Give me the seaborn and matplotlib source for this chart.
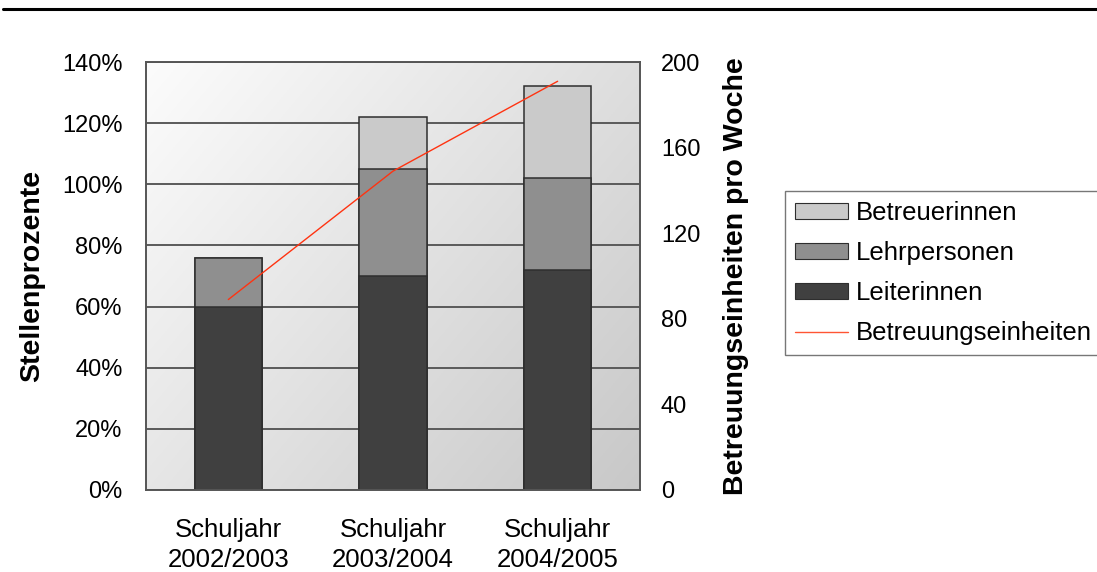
import numpy as np
import pandas as pd
import matplotlib
matplotlib.use("Agg")
import matplotlib.pyplot as plt
from matplotlib.patches import Patch
from matplotlib.lines import Line2D
import seaborn as sns

# Data
schuljahre = ["Schuljahr\n2002/2003", "Schuljahr\n2003/2004", "Schuljahr\n2004/2005"]
leiterinnen = [60, 70, 72]
lehrpersonen = [16, 35, 30]
betreuerinnen = [0, 17, 30]
betreuungseinheiten = [89, 149, 191]

sns.set_theme(style="white")
plt.rcParams["font.family"] = ["Liberation Sans", "DejaVu Sans"]
plt.rcParams["text.color"] = "black"
plt.rcParams["axes.labelcolor"] = "black"

FS = 17
FS_CAT = 18.5

fig = plt.figure(figsize=(10.97, 5.72), dpi=100)
ax = fig.add_axes([0.1331, 0.1434, 0.4503, 0.7482])

# gradient background for the plot area: light top-left, darker bottom-right
gx, gy = np.meshgrid(np.linspace(0, 1, 256), np.linspace(0, 1, 256))
shade = (252 - 30 * gx - 22 * (1 - gy)) / 255.0
rgb = np.dstack([shade, shade, shade])
ax.imshow(rgb, extent=(0, 1, 0, 1), transform=ax.transAxes,
          aspect="auto", zorder=0, origin="lower")

df = pd.DataFrame({
    "Schuljahr": schuljahre,
    "Leiterinnen": leiterinnen,
    "Lehrpersonen": lehrpersonen,
    "Betreuerinnen": betreuerinnen,
})
df["lvl1"] = df["Leiterinnen"]
df["lvl2"] = df["lvl1"] + df["Lehrpersonen"]
df["lvl3"] = df["lvl2"] + df["Betreuerinnen"]

colors = {"Betreuerinnen": "#cacaca", "Lehrpersonen": "#8f8f8f", "Leiterinnen": "#404040"}
for col, name in [("lvl3", "Betreuerinnen"), ("lvl2", "Lehrpersonen"), ("lvl1", "Leiterinnen")]:
    sns.barplot(data=df, x="Schuljahr", y=col, color=colors[name], saturation=1,
                width=0.41, edgecolor="#2e2e2e", linewidth=1.1, ax=ax, zorder=3)

ax.set_xlim(-0.5, 2.5)
ax.set_ylim(0, 140)
ax.set_yticks(np.arange(0, 141, 20))
ax.set_yticklabels([f"{v}%" for v in range(0, 141, 20)])
ax.yaxis.grid(True, color="#5a5a5a", linewidth=1.4, zorder=1)
ax.set_axisbelow(True)
for s in ax.spines.values():
    s.set_color("#555555")
    s.set_linewidth(1.4)
    s.set_zorder(5)
ax.tick_params(axis="y", length=0, pad=17, labelsize=FS, colors="black")
ax.tick_params(axis="x", length=0, pad=20, labelsize=FS_CAT, colors="black")
for lbl in ax.get_xticklabels():
    lbl.set_linespacing(1.35)
ax.set_xlabel("")
ax.set_ylabel("Stellenprozente", fontsize=20.5, fontweight="bold", labelpad=12, color="black")

# secondary axis: Betreuungseinheiten
ax2 = ax.twinx()
sns.lineplot(x=[0, 1, 2], y=betreuungseinheiten, color="#ff3311", linewidth=1.0, ax=ax2, zorder=6)
ax2.set_xlim(-0.5, 2.5)
ax2.set_ylim(0, 200)
ax2.set_yticks(np.arange(0, 201, 40))
ax2.tick_params(axis="y", length=0, pad=15, labelsize=FS, colors="black")
ax2.set_ylabel("Betreuungseinheiten pro Woche", fontsize=20.5, fontweight="bold",
               labelpad=16, color="black")
for s in ax2.spines.values():
    s.set_visible(False)
ax2.grid(False)

handles = [
    Patch(facecolor=colors["Betreuerinnen"], edgecolor="#2e2e2e", linewidth=0.8),
    Patch(facecolor=colors["Lehrpersonen"], edgecolor="#2e2e2e", linewidth=0.8),
    Patch(facecolor=colors["Leiterinnen"], edgecolor="#2e2e2e", linewidth=0.8),
    Line2D([0], [0], color="#ff5533", linewidth=1.0),
]
labels = ["Betreuerinnen", "Lehrpersonen", "Leiterinnen", "Betreuungseinheiten"]
leg = fig.legend(handles, labels, loc="upper left", bbox_to_anchor=(0.7156, 0.666),
                 frameon=True, fancybox=False, fontsize=FS_CAT, handlelength=2.05,
                 handleheight=0.55, labelspacing=0.62, borderpad=0.4, handletextpad=0.3,
                 borderaxespad=0)
leg.get_frame().set_edgecolor("#555555")
leg.get_frame().set_linewidth(1.0)
for t in leg.get_texts():
    t.set_color("black")

# rule across the top of the figure
fig.add_artist(Line2D([0.003, 1.0], [0.985, 0.985], color="black", linewidth=2.2,
                      transform=fig.transFigure))

fig.savefig("out.png", dpi=100, facecolor="white")
